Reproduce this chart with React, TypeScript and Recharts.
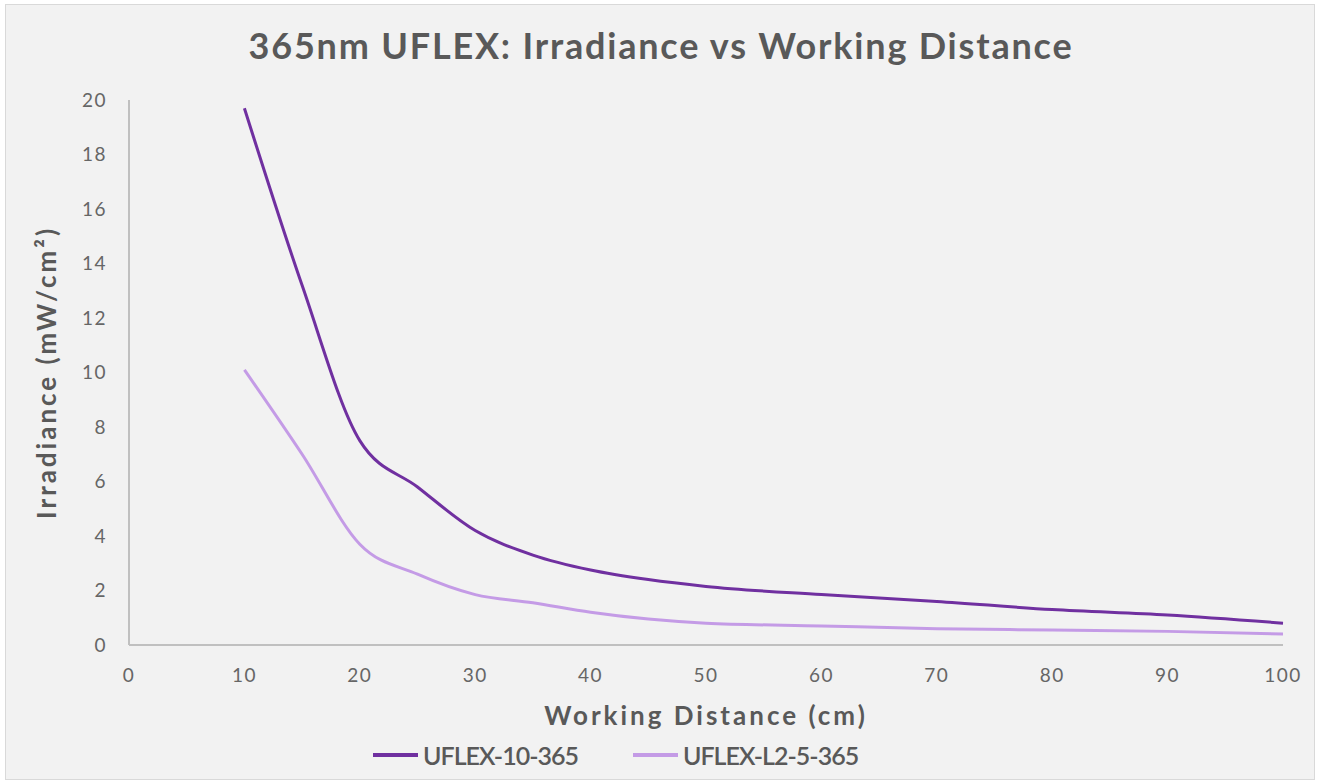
import { LineChart, Line, XAxis, YAxis, Legend } from "recharts"

const distances = [10, 15, 20, 25, 30, 35, 40, 45, 50, 60, 70, 80, 90, 100]
const uflex10 = [19.7, 13.2, 7.5, 5.8, 4.2, 3.3, 2.75, 2.4, 2.15, 1.85, 1.6, 1.3, 1.1, 0.8]
const uflexL2 = [10.1, 7.0, 3.7, 2.6, 1.85, 1.55, 1.2, 0.95, 0.8, 0.7, 0.6, 0.55, 0.5, 0.4]
const xTicks = [0, 10, 20, 30, 40, 50, 60, 70, 80, 90, 100]
const yTicks = [0, 2, 4, 6, 8, 10, 12, 14, 16, 18, 20]

const series = [
  { key: "a", name: "UFLEX-10-365", color: "#7030A0" },
  { key: "b", name: "UFLEX-L2-5-365", color: "#C49BE6" },
]

const data = distances.map((d, i) => ({ d, a: uflex10[i], b: uflexL2[i] }))

const FONT = "Lato, 'Open Sans', sans-serif"
const TEXT = "#595959"

function LegendBox() {
  return (
    <div
      style={{
        display: "flex",
        paddingLeft: 367,
        gap: 55,
        fontFamily: FONT,
        fontSize: 25,
        fontWeight: 600,
        letterSpacing: -1,
        color: TEXT,
      }}
    >
      {series.map((s) => (
        <div key={s.key} style={{ display: "flex", alignItems: "center" }}>
          <span style={{ display: "inline-block", width: 45, height: 4, background: s.color, marginRight: 5 }} />
          <span>{s.name}</span>
        </div>
      ))}
    </div>
  )
}

export default function App() {
  return (
    <div style={{ position: "absolute", left: 0, top: 0, width: 1320, height: 782, background: "#fff" }}>
      <div
        style={{
          position: "absolute",
          left: 5,
          top: 4,
          width: 1310,
          height: 776,
          boxSizing: "border-box",
          border: "1px solid #d9d9d9",
          background: "#f2f2f2",
        }}
      >
        <div
          style={{
            position: "absolute",
            top: 18,
            left: 0,
            width: 1310,
            textAlign: "center",
            fontFamily: FONT,
            fontWeight: 700,
            fontSize: 36,
            letterSpacing: 1.8,
            color: TEXT,
          }}
        >
          365nm UFLEX: Irradiance vs Working Distance
        </div>
        <LineChart width={1308} height={774} data={data} margin={{ top: 95, right: 31, bottom: 44, left: 0 }}>
          <XAxis
            dataKey="d"
            type="number"
            domain={[0, 100]}
            ticks={xTicks}
            tickSize={0}
            tickMargin={24}
            height={90}
            axisLine={{ stroke: "#c0c0c0", strokeWidth: 2 }}
            tick={{ fill: "#666", fontSize: 19, fontFamily: FONT, letterSpacing: 1.5 }}
            label={{
              value: "Working Distance (cm)",
              position: "insideBottom",
              offset: 10,
              style: { fill: TEXT, fontSize: 26, fontWeight: 700, fontFamily: FONT, letterSpacing: 3 },
            }}
          />
          <YAxis
            type="number"
            domain={[0, 20]}
            ticks={yTicks}
            width={123}
            tickSize={0}
            tickMargin={22}
            axisLine={{ stroke: "#c0c0c0", strokeWidth: 2 }}
            tick={{ fill: "#666", fontSize: 19, fontFamily: FONT, letterSpacing: 1.5 }}
            label={{
              value: "Irradiance (mW/cm²)",
              angle: -90,
              position: "insideLeft",
              offset: 41,
              style: {
                textAnchor: "middle",
                fill: TEXT,
                fontSize: 26,
                fontWeight: 700,
                fontFamily: FONT,
                letterSpacing: 3,
              },
            }}
          />
          <Legend
            layout="horizontal"
            verticalAlign="middle"
            align="center"
            content={<LegendBox />}
            wrapperStyle={{ top: 735, left: 0, width: 1308 }}
          />
          {series.map((s) => (
            <Line
              key={s.key}
              dataKey={s.key}
              name={s.name}
              type="monotone"
              stroke={s.color}
              strokeWidth={3}
              dot={false}
              isAnimationActive={false}
            />
          ))}
        </LineChart>
      </div>
    </div>
  )
}
